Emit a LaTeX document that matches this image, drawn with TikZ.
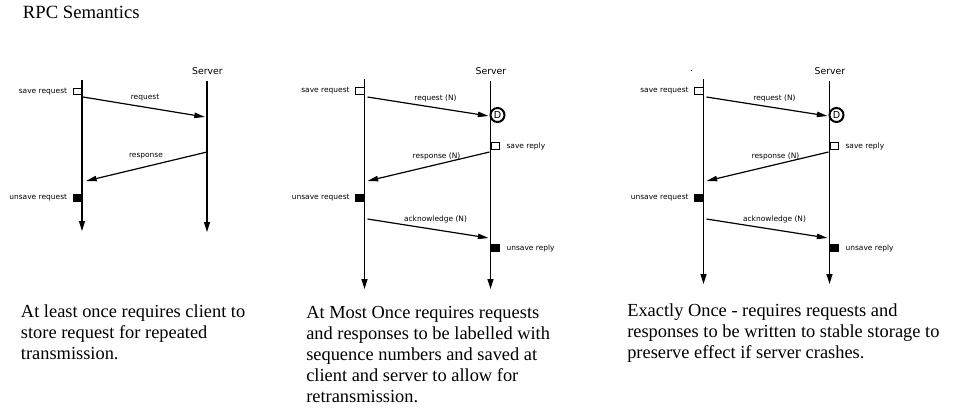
\documentclass[tikz,border=0pt]{standalone}
\usepackage{fontspec}
\setmainfont{Liberation Serif}
\newfontfamily\labelfont{DejaVu Sans}
\usetikzlibrary{arrows.meta, positioning}

\begin{document}
\begin{tikzpicture}[x=0.75pt, y=-0.75pt,
    lifeline/.style={line width=1.1pt, -{Triangle[length=7.5pt,width=4.5pt]}},
    msg/.style={line width=0.9pt, -{Triangle[length=8pt,width=4pt]}},
    openbox/.style={draw, fill=white, line width=0.75pt, inner sep=0pt,
        minimum width=6.5pt, minimum height=5pt},
    fullbox/.style={openbox, fill=black, minimum height=5.5pt},
    dnode/.style={circle, draw, line width=1.5pt, inner sep=0pt, minimum size=10.5pt,
        font=\labelfont\fontsize{7.2}{8}\selectfont},
    lbl/.style={inner sep=0pt, font=\labelfont\fontsize{5.6}{6.5}\selectfont},
    srvlabel/.style={inner sep=0pt, font=\labelfont\fontsize{7}{8}\selectfont},
    note/.style={inner sep=0pt, anchor=base west, align=left,
        font=\fontsize{13.8}{15.75}\selectfont}]
  \useasboundingbox (0,0) rectangle (961,419);

  \node[inner sep=0pt, anchor=base west, font=\fontsize{14}{16}\selectfont] (title) at (22.7,18.3) {RPC Semantics};

  % at least once
  \coordinate (a-ctop) at (82,80);
  \coordinate (a-cbot) at (82,231);
  \coordinate (a-stop) at (207,81);
  \coordinate (a-sbot) at (207,232);
  \draw[lifeline] (a-ctop) -- (a-cbot);
  \draw[lifeline] (a-stop) -- (a-sbot);
  \node[srvlabel] (a-server) at (207.5,71) {Server};
  \node[openbox] (a-saverq) at (77.5,91.5) {};
  \node[lbl, left=4pt of a-saverq] (a-saverqlbl) {save request};
  \coordinate (a-req0) at (83,97);
  \coordinate (a-req1) at (205,117);
  \draw[msg] (a-req0) -- (a-req1);
  \node[lbl] (a-reqlbl) at (145,98) {request};
  \coordinate (a-rsp0) at (207,152);
  \coordinate (a-rsp1) at (86,181);
  \draw[msg] (a-rsp0) -- (a-rsp1);
  \node[lbl] (a-rsplbl) at (146,156) {response};
  \node[fullbox] (a-unrq) at (77.5,198) {};
  \node[lbl, left=4pt of a-unrq] (a-unrqlbl) {unsave request};

  % at most once / exactly once, same exchange
  \foreach \p/\cx/\bot in {b/364.5/289, c/703.5/284} {
    \coordinate (\p-ctop) at (\cx,79);
    \coordinate (\p-cbot) at (\cx,\bot);
    \coordinate (\p-stop) at (\cx+126,81);
    \coordinate (\p-sbot) at (\cx+126,\bot);
    \draw[lifeline] (\p-ctop) -- (\p-cbot);
    \draw[lifeline] (\p-stop) -- (\p-sbot);
    \node[srvlabel] (\p-server) at (\cx+126.5,71) {Server};
    % request, duplicate filter
    \node[openbox] (\p-saverq) at (\cx-4.5,91) {};
    \node[lbl, left=4pt of \p-saverq] (\p-saverqlbl) {save request};
    \coordinate (\p-req0) at (\cx+3,97);
    \coordinate (\p-req1) at (\cx+124,116);
    \draw[msg] (\p-req0) -- (\p-req1);
    \node[lbl] (\p-reqlbl) at (\cx+71,98) {request (N)};
    \node[dnode] (\p-dup) at (\cx+133,115) {D};
    % response
    \node[openbox] (\p-saverp) at (\cx+131,146) {};
    \node[lbl, right=4.5pt of \p-saverp] (\p-saverplbl) {save reply};
    \coordinate (\p-rsp0) at (\cx+125,152);
    \coordinate (\p-rsp1) at (\cx+3,181);
    \draw[msg] (\p-rsp0) -- (\p-rsp1);
    \node[lbl] (\p-rsplbl) at (\cx+72,156) {response (N)};
    \node[fullbox] (\p-unrq) at (\cx-4.5,198) {};
    \node[lbl, left=4pt of \p-unrq] (\p-unrqlbl) {unsave request};
    % acknowledge
    \coordinate (\p-ack0) at (\cx+3,219);
    \coordinate (\p-ack1) at (\cx+124,238);
    \draw[msg] (\p-ack0) -- (\p-ack1);
    \node[lbl] (\p-acklbl) at (\cx+71,219) {acknowledge (N)};
    \node[fullbox] (\p-unrp) at (\cx+131,248) {};
    \node[lbl, right=4.5pt of \p-unrp] (\p-unrplbl) {unsave reply};
  }
  \fill (690.5,69.5) rectangle (691.7,71.2); % stray mark

  % captions (base = last line)
  \node[note] (a-note) at (20.7,359) {At least once requires client to\\store request for repeated\\transmission.};
  \node[note] (b-note) at (306,402) {At Most Once requires requests\\and responses to be labelled with\\sequence numbers and saved at\\client and server to allow for\\retransmission.};
  \node[note] (c-note) at (627,358) {Exactly Once - requires requests and\\responses to be written to stable storage to\\preserve effect if server crashes.};
\end{tikzpicture}
\end{document}
